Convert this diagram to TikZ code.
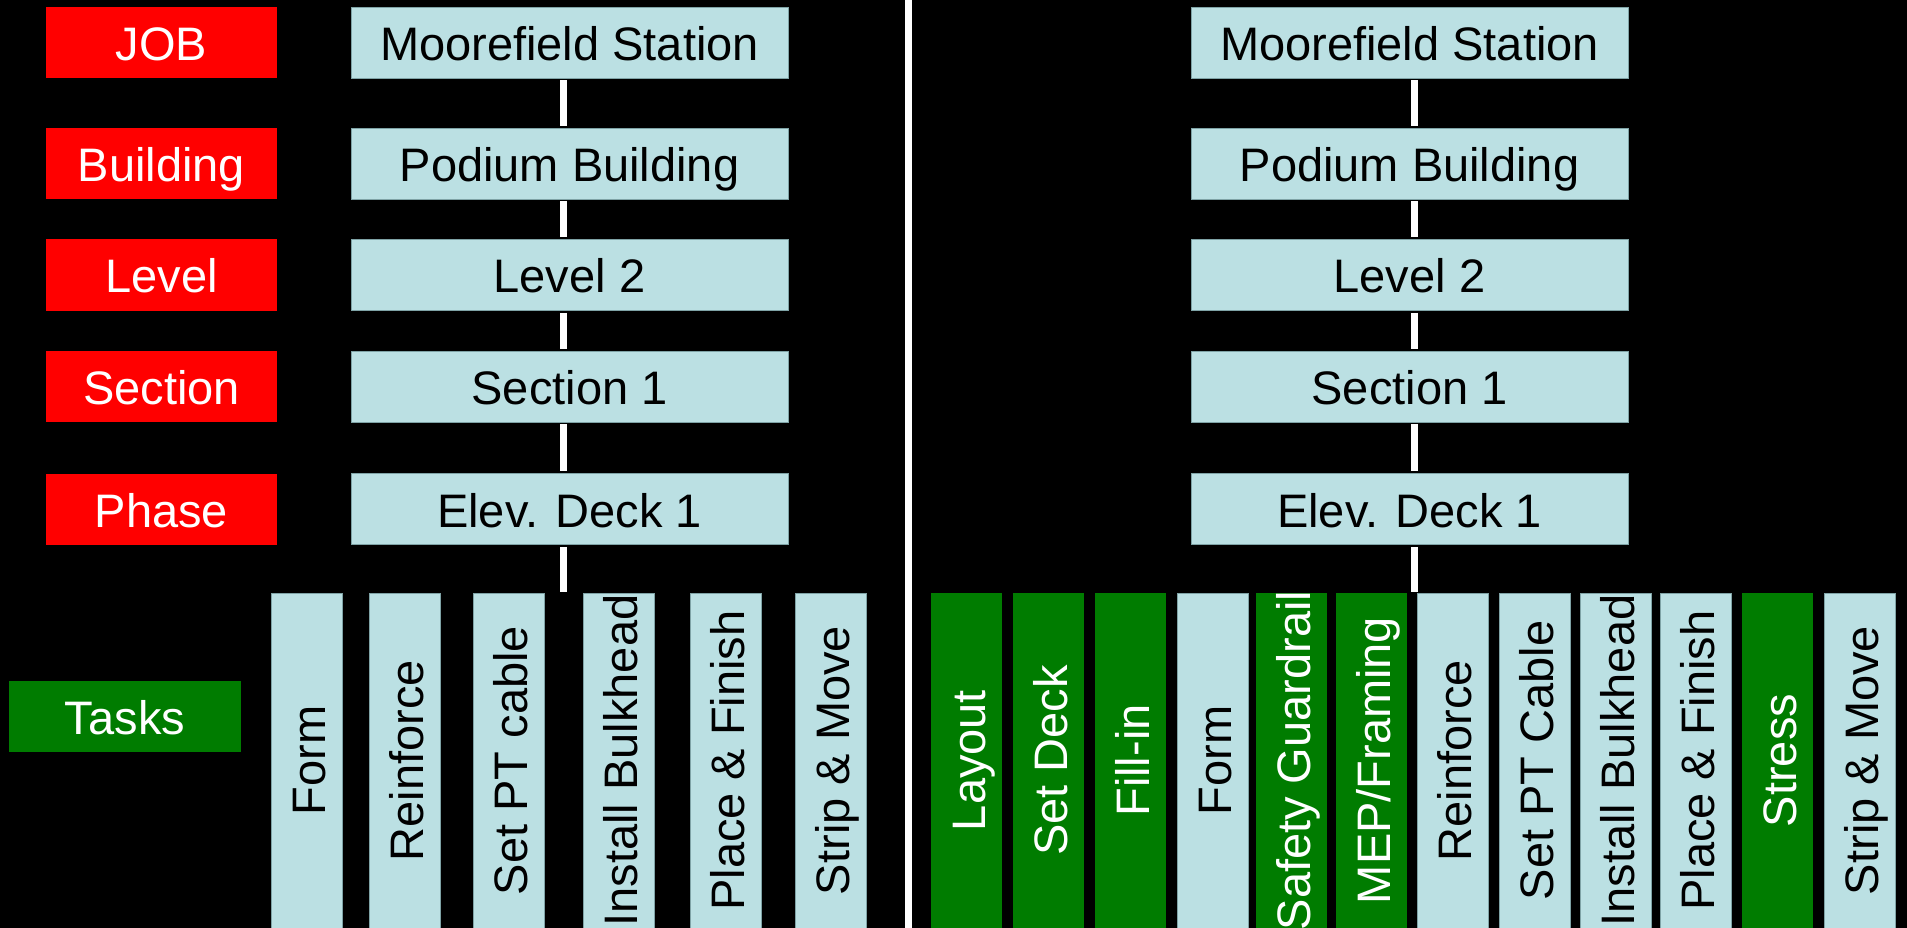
\documentclass[tikz,border=0pt]{standalone}
\usepackage{fontspec}
\setmainfont{Liberation Sans}
\definecolor{lblue}{HTML}{BBE0E3}
\definecolor{tgreen}{HTML}{007C00}
\definecolor{lbline}{HTML}{7FA3A6}
\newcommand{\bigfs}{\fontsize{47}{50}\selectfont}
\newcommand{\cz}[1]{\makebox[0pt]{#1}}
\tikzset{
  labbox/.style={fill=red, text=white, minimum width=231pt, minimum height=71pt, inner sep=0pt, font=\bigfs, text height=36pt, text depth=0pt},
  hbox/.style={fill=lblue, draw=lbline, line width=0.8pt, minimum width=437pt, minimum height=71pt, inner sep=0pt, font=\bigfs, text height=36pt, text depth=0pt},
  tasklab/.style={fill=tgreen, text=white, minimum width=232pt, minimum height=71pt, inner sep=0pt, font=\bigfs, text height=36pt, text depth=0pt},
  colbase/.style={rotate=90, minimum width=335pt, minimum height=71pt, inner sep=0pt, font=\bigfs, text height=38pt, text depth=0pt},
  bcol/.style={colbase, fill=lblue, draw=lbline, line width=0.8pt, text=black},
  gcol/.style={colbase, fill=tgreen, text=white},
  conn/.style={draw=white, line width=7pt, shorten <=2pt, shorten >=2pt},
}
\begin{document}
\begin{tikzpicture}[x=1pt,y=-1pt]
\fill[black] (0,0) rectangle (1907,928);
\useasboundingbox (0,0) rectangle (1907,928);

% divider
\coordinate (divT) at (908.5,0);
\coordinate (divB) at (908.5,928);
\draw[white, line width=7pt] (divT) -- (divB);

% left labels
\node[labbox] (lJob) at (161.5,42.5) {JOB};
\node[labbox] (lBld) at (161.5,163.5) {Building};
\node[labbox] (lLev) at (161.5,275) {Level};
\node[labbox] (lSec) at (161.5,386.5) {Section};
\node[labbox] (lPha) at (161.5,509) {Phase};
\node[tasklab] (lTask) at (125,716) {Tasks};

% left hierarchy
\coordinate (cL) at (563,0);
\node[hbox] (a1) at (569.5,42.5) {Moorefield Station};
\node[hbox] (a2) at (569.5,163.5) {Podium Building};
\node[hbox] (a3) at (569.5,275) {Level 2};
\node[hbox] (a4) at (569.5,386.5) {Section 1};
\node[hbox] (a5) at (569.5,509) {Elev. Deck 1};
\coordinate (aEnd) at (563,594);
\draw[conn] (a1.south -| cL) -- (a2.north -| cL);
\draw[conn] (a2.south -| cL) -- (a3.north -| cL);
\draw[conn] (a3.south -| cL) -- (a4.north -| cL);
\draw[conn] (a4.south -| cL) -- (a5.north -| cL);
\draw[conn] (a5.south -| cL) -- (aEnd);

% left tasks
\node[bcol] (t1) at (306.5,760.5) {\cz{Form}};
\node[bcol] (t2) at (404.5,760.5) {\cz{Reinforce}};
\node[bcol] (t3) at (508.5,760.5) {\cz{Set PT cable}};
\node[bcol] (t4) at (618.5,760.5) {\cz{Install Bulkhead}};
\node[bcol] (t5) at (725.5,760.5) {\cz{Place \& Finish}};
\node[bcol] (t6) at (830.5,760.5) {\cz{Strip \& Move}};

% right hierarchy
\coordinate (cR) at (1414.5,0);
\node[hbox] (b1) at (1409.5,42.5) {Moorefield Station};
\node[hbox] (b2) at (1409.5,163.5) {Podium Building};
\node[hbox] (b3) at (1409.5,275) {Level 2};
\node[hbox] (b4) at (1409.5,386.5) {Section 1};
\node[hbox] (b5) at (1409.5,509) {Elev. Deck 1};
\coordinate (bEnd) at (1414.5,594);
\draw[conn] (b1.south -| cR) -- (b2.north -| cR);
\draw[conn] (b2.south -| cR) -- (b3.north -| cR);
\draw[conn] (b3.south -| cR) -- (b4.north -| cR);
\draw[conn] (b4.south -| cR) -- (b5.north -| cR);
\draw[conn] (b5.south -| cR) -- (bEnd);

% right tasks
\node[gcol] (r1) at (966.5,760.5) {\cz{Layout}};
\node[gcol] (r2) at (1048.5,760.5) {\cz{Set Deck}};
\node[gcol] (r3) at (1130.5,760.5) {\cz{Fill-in}};
\node[bcol] (r4) at (1212.5,760.5) {\cz{Form}};
\node[gcol] (r5) at (1291.5,760.5) {\cz{Safety Guardrail}};
\node[gcol] (r6) at (1371.5,760.5) {\cz{MEP/Framing}};
\node[bcol] (r7) at (1452.5,760.5) {\cz{Reinforce}};
\node[bcol] (r8) at (1534.5,760.5) {\cz{Set PT Cable}};
\node[bcol] (r9) at (1615.5,760.5) {\cz{Install Bulkhead}};
\node[bcol] (r10) at (1695.5,760.5) {\cz{Place \& Finish}};
\node[gcol] (r11) at (1777.5,760.5) {\cz{Stress}};
\node[bcol] (r12) at (1859.5,760.5) {\cz{Strip \& Move}};
\end{tikzpicture}
\end{document}
